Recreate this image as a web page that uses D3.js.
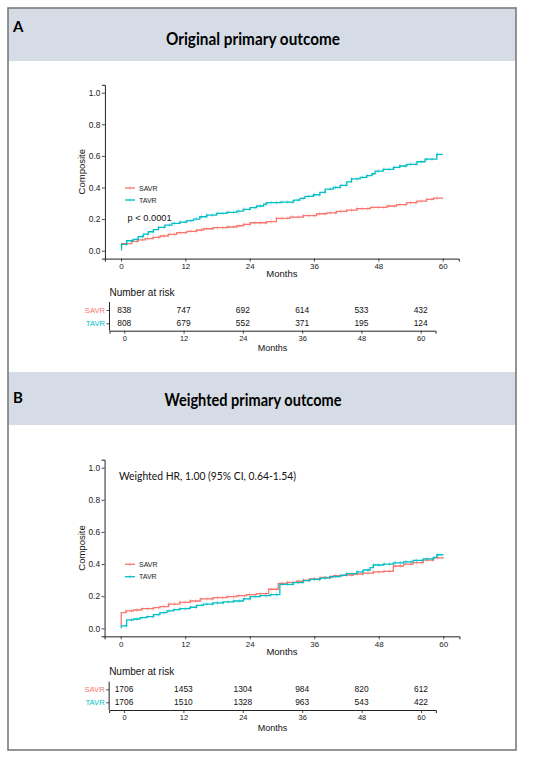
<!DOCTYPE html>
<html><head><meta charset="utf-8">
<script src="https://cdn.jsdelivr.net/npm/d3@7/dist/d3.min.js"></script>
<style>html,body{margin:0;padding:0;background:#fff;}svg{display:block;}</style>
</head><body>
<svg id="c" width="550" height="758"></svg>
<script>
// ---------- DATA ----------
const groups = ["SAVR", "TAVR"];
const xTicks = [0, 12, 24, 36, 48, 60];
const yTicks = [0.0, 0.2, 0.4, 0.6, 0.8, 1.0];

// Panel A: original primary outcome (cumulative incidence, step times in months)
const aSavrT = [0, 0.1, 2, 3.2, 4.5, 6, 7.3, 8.8, 10.4, 12.3, 14.1, 15.4, 17.2, 19.7, 21.6, 22.8, 24.1, 27.2, 29, 31.5, 34, 36.5, 38.4, 40.2, 42.1, 44, 46.5, 49.6, 51.4, 53.3, 55.2, 57, 58.3, 60];
const aSavrV = [0.025, 0.045, 0.059, 0.068, 0.076, 0.084, 0.093, 0.103, 0.114, 0.122, 0.131, 0.139, 0.146, 0.15, 0.158, 0.167, 0.177, 0.184, 0.205, 0.213, 0.222, 0.234, 0.24, 0.249, 0.257, 0.266, 0.274, 0.283, 0.291, 0.304, 0.314, 0.325, 0.333, 0.335];
const aTavrT = [0, 0.1, 1.06, 2.3, 3.2, 4.2, 5.1, 6.04, 7, 8.2, 9.5, 11, 12.3, 13.5, 14.7, 16, 17.8, 19.7, 21.6, 22.8, 24.1, 25.3, 26.6, 27.2, 29.7, 32.2, 33.4, 34.3, 35.9, 37.1, 38.1, 39.6, 40.9, 42.1, 43, 44.6, 45.8, 46.8, 47.4, 48.9, 50.8, 52, 53.3, 55.2, 56.7, 58.9, 60];
const aTavrV = [0.005, 0.04, 0.063, 0.072, 0.089, 0.105, 0.12, 0.133, 0.148, 0.162, 0.173, 0.181, 0.19, 0.2, 0.215, 0.225, 0.236, 0.243, 0.25, 0.262, 0.272, 0.283, 0.295, 0.304, 0.308, 0.32, 0.331, 0.344, 0.354, 0.369, 0.39, 0.4, 0.413, 0.435, 0.454, 0.464, 0.475, 0.487, 0.504, 0.515, 0.527, 0.536, 0.546, 0.563, 0.58, 0.61, 0.61];
const aRiskSavr = [838, 747, 692, 614, 533, 432];
const aRiskTavr = [808, 679, 552, 371, 195, 124];

// Panel B: weighted primary outcome
const bSavrT = [0, 0.1, 1.0, 2.4, 3.9, 6.1, 7.3, 8.9, 11, 12.9, 14.8, 17.2, 19.7, 21.6, 23.4, 25.3, 27.5, 29.3, 30.9, 32.7, 34, 35.2, 37.1, 39.5, 41.4, 43.3, 45.1, 47, 48.9, 50.7, 52.6, 54.4, 56.3, 58.2, 60];
const bSavrV = [0.02, 0.097, 0.108, 0.114, 0.122, 0.129, 0.135, 0.15, 0.162, 0.17, 0.183, 0.191, 0.197, 0.203, 0.21, 0.216, 0.243, 0.28, 0.286, 0.293, 0.3, 0.307, 0.317, 0.328, 0.332, 0.338, 0.344, 0.351, 0.355, 0.388, 0.4, 0.409, 0.425, 0.438, 0.442];
const bTavrT = [0, 0.1, 1.1, 2.4, 3.6, 4.8, 6.1, 7.3, 8.6, 9.8, 11, 12.9, 14.1, 15.4, 17.2, 19.1, 21, 22.8, 24.1, 25.9, 27.8, 29.6, 32.1, 34, 35.2, 37.1, 38.9, 40.8, 42, 43.9, 45.1, 46.4, 47, 48.9, 50.7, 52.6, 54.4, 56.3, 58.2, 58.8, 60];
const bTavrV = [0.005, 0.015, 0.052, 0.058, 0.066, 0.073, 0.085, 0.097, 0.108, 0.116, 0.122, 0.131, 0.143, 0.151, 0.158, 0.164, 0.17, 0.183, 0.197, 0.203, 0.21, 0.274, 0.284, 0.297, 0.305, 0.313, 0.322, 0.33, 0.34, 0.351, 0.363, 0.378, 0.394, 0.4, 0.407, 0.413, 0.423, 0.432, 0.442, 0.458, 0.458];
const bRiskSavr = [1706, 1453, 1304, 984, 820, 612];
const bRiskTavr = [1706, 1510, 1328, 963, 543, 422];

// censoring marks (months)
const censorMonths = [1,2,3,4,5,6,7,8,9,10,11,12,13,14,15,16,17,18,19,20,21,22,23,24,25,26,27,28,29,30,31,32,33,34,35,36,37,38,39,40,41,42,43,44,45,46,47,48,49,50,51,52,53,54,55,56,57,58,59];

// ---------- STYLE ----------
const colors = {SAVR: "#F8766D", TAVR: "#00BFC4"};
const axisCol = "#222";
const ggFont = "'Liberation Sans', Arial, Helvetica, sans-serif";
const calFont = "Lato, 'Open Sans', sans-serif";

const svg = d3.select("#c");

// Frame and header bands
svg.append("rect").attr("x", 8).attr("y", 8).attr("width", 508).attr("height", 742)
  .attr("fill", "#fff").attr("stroke", "none");
function header(y0, y1, letter, letterBase, title, titleBase, titleW) {
  svg.append("rect").attr("x", 8).attr("y", y0).attr("width", 508).attr("height", y1 - y0).attr("fill", "#D6DCE5");
  svg.append("text").attr("x", 13).attr("y", letterBase).text(letter)
    .attr("font-family", calFont).attr("font-weight", 700).attr("font-size", 15).attr("fill", "#000");
  svg.append("text").attr("x", 253).attr("y", titleBase).attr("text-anchor", "middle").text(title)
    .attr("font-family", calFont).attr("font-weight", 700).attr("font-size", 16.5).attr("fill", "#000")
    .attr("textLength", titleW).attr("lengthAdjust", "spacingAndGlyphs");
}
header(8, 61, "A", 31.7, "Original primary outcome", 45, 174);
header(372, 425, "B", 402.7, "Weighted primary outcome", 406, 177);
svg.append("rect").attr("x", 8).attr("y", 8).attr("width", 508).attr("height", 742)
  .attr("fill", "none").attr("stroke", "#7a7a7a").attr("stroke-width", 1.6);

function stepValue(T, V, t) {
  const i = d3.bisectRight(T, t) - 1;
  return V[Math.max(0, i)];
}

function panel(cfg) {
  const x = d3.scaleLinear().domain([-3, 63]).range([cfg.x0 - 3 * (cfg.x60 - cfg.x0) / 60, cfg.x60 + 3 * (cfg.x60 - cfg.x0) / 60]);
  const y = d3.scaleLinear().domain([-0.05, 1.05]).range([cfg.y0 + 0.05 * (cfg.y0 - cfg.y1), cfg.y1 - 0.05 * (cfg.y0 - cfg.y1)]);
  const g = svg.append("g");
  const ax = x.range(), ay = y.range();

  // x axis
  const xa = g.append("g").attr("transform", `translate(0,${ay[0]})`)
    .call(d3.axisBottom(x).tickValues(xTicks).tickSize(3).tickPadding(1.5).tickFormat(d3.format("d")));
  // y axis
  const ya = g.append("g").attr("transform", `translate(${ax[0]},0)`)
    .call(d3.axisLeft(y).tickValues(yTicks).tickSize(3).tickPadding(1.5).tickFormat(d3.format(".1f")));
  [xa, ya].forEach(a => {
    a.select(".domain").attr("stroke", axisCol).attr("stroke-width", 1);
    a.selectAll(".tick line").attr("stroke", axisCol).attr("stroke-width", 0.8);
    a.selectAll("text").attr("font-family", ggFont).attr("fill", "#222");
  });
  xa.selectAll("text").attr("font-size", 8);
  ya.selectAll("text").attr("font-size", 8.4);
  g.append("text").attr("x", (ax[0] + ax[1]) / 2).attr("y", ay[0] + 18.5).attr("text-anchor", "middle")
    .text("Months").attr("font-family", ggFont).attr("font-size", 9.5).attr("fill", "#111");
  g.append("text").attr("transform", `translate(${ax[0] - 20},${(ay[0] + ay[1]) / 2}) rotate(-90)`)
    .attr("text-anchor", "middle").text("Composite").attr("font-family", ggFont).attr("font-size", 9.5).attr("fill", "#111");

  // curves
  const line = d3.line().curve(d3.curveStepAfter).x(d => x(d[0])).y(d => y(d[1]));
  cfg.series.forEach(s => {
    const pts = s.t.map((t, i) => [t, s.v[i]]);
    g.append("path").attr("d", line(pts)).attr("fill", "none").attr("stroke", colors[s.name]).attr("stroke-width", 1.3);
    const cg = g.append("g").attr("stroke", colors[s.name]).attr("stroke-width", 0.7).attr("opacity", 0.55);
    censorMonths.forEach(m => {
      const cx = x(m), cy = y(stepValue(s.t, s.v, m));
      cg.append("line").attr("x1", cx).attr("x2", cx).attr("y1", cy - 2).attr("y2", cy + 2);
      cg.append("line").attr("x1", cx - 1.5).attr("x2", cx + 1.5).attr("y1", cy).attr("y2", cy);
    });
  });

  // legend
  groups.forEach((name, i) => {
    const ly = cfg.legY[i];
    g.append("line").attr("x1", 125).attr("x2", 135).attr("y1", ly).attr("y2", ly).attr("stroke", colors[name]).attr("stroke-width", 1.3);
    g.append("line").attr("x1", 130).attr("x2", 130).attr("y1", ly - 1.8).attr("y2", ly + 1.8).attr("stroke", colors[name]).attr("stroke-width", 0.7).attr("opacity", 0.6);
    g.append("text").attr("x", 139).attr("y", ly + 2.5).text(name)
      .attr("font-family", ggFont).attr("font-size", 7).attr("fill", "#222");
  });

  // annotation
  const an = g.append("text").attr("x", cfg.annX).attr("y", cfg.annY).text(cfg.ann).attr("fill", "#111");
  if (cfg.annCal) an.attr("font-family", calFont).attr("font-size", 12).attr("textLength", cfg.annW).attr("lengthAdjust", "spacingAndGlyphs");
  else an.attr("font-family", ggFont).attr("font-size", 9.3);

  // risk table
  const rx = d3.scaleLinear().domain([-3, 63]).range([cfg.r0 - 3 * (cfg.r60 - cfg.r0) / 60, cfg.r60 + 3 * (cfg.r60 - cfg.r0) / 60]);
  const ry = d3.scalePoint().domain(groups).range([cfg.rowY[0], cfg.rowY[1]]);
  const rr = rx.range();
  g.append("text").attr("x", rr[0]).attr("y", cfg.rowY[0] - 14).text("Number at risk")
    .attr("font-family", ggFont).attr("font-size", 10).attr("fill", "#111");
  const rxa = g.append("g").attr("transform", `translate(0,${cfg.rAxisY})`)
    .call(d3.axisBottom(rx).tickValues(xTicks).tickSize(3).tickPadding(1.5).tickFormat(d3.format("d")));
  const rya = g.append("g").attr("transform", `translate(${rr[0]},0)`)
    .call(d3.axisLeft(ry).tickSize(3).tickPadding(1.5));
  rya.select(".domain").attr("d", `M0,${cfg.rAxisTop}V${cfg.rAxisY}`);
  [rxa, rya].forEach(a => {
    a.select(".domain").attr("stroke", axisCol).attr("stroke-width", 1);
    a.selectAll(".tick line").attr("stroke", axisCol).attr("stroke-width", 0.8);
    a.selectAll("text").attr("font-family", ggFont).attr("font-size", 7.5).attr("fill", "#222");
  });
  rya.selectAll(".tick text").attr("fill", d => colors[d]).attr("font-size", 7.6);
  g.append("text").attr("x", (rr[0] + rr[1]) / 2).attr("y", cfg.rAxisY + 20.5).attr("text-anchor", "middle")
    .text("Months").attr("font-family", ggFont).attr("font-size", 9).attr("fill", "#111");
  [[groups[0], cfg.riskS], [groups[1], cfg.riskT]].forEach(([name, vals]) => {
    g.append("g").selectAll("text").data(vals).join("text")
      .attr("x", (d, i) => rx(xTicks[i])).attr("y", ry(name) + 3)
      .attr("text-anchor", "middle").text(d => d)
      .attr("font-family", ggFont).attr("font-size", 8.4).attr("fill", "#111");
  });
}

panel({
  x0: 121, x60: 442.7, y0: 250.7, y1: 92.7,
  series: [{name: "SAVR", t: aSavrT, v: aSavrV}, {name: "TAVR", t: aTavrT, v: aTavrV}],
  legY: [188, 200],
  ann: "p < 0.0001", annX: 127.5, annY: 221.3, annCal: false,
  r0: 124.3, r60: 420.7, rowY: [310, 323.3], rAxisY: 330.7, rAxisTop: 302,
  riskS: aRiskSavr, riskT: aRiskTavr
});
panel({
  x0: 120.7, x60: 443.3, y0: 628.3, y1: 467.7,
  series: [{name: "SAVR", t: bSavrT, v: bSavrV}, {name: "TAVR", t: bTavrT, v: bTavrV}],
  legY: [564.3, 576.7],
  ann: "Weighted HR, 1.00 (95% CI, 0.64-1.54)", annX: 119, annY: 480, annCal: true, annW: 177,
  r0: 124, r60: 421, rowY: [689.3, 702.3], rAxisY: 710, rAxisTop: 681.7,
  riskS: bRiskSavr, riskT: bRiskTavr
});
</script>
</body></html>
